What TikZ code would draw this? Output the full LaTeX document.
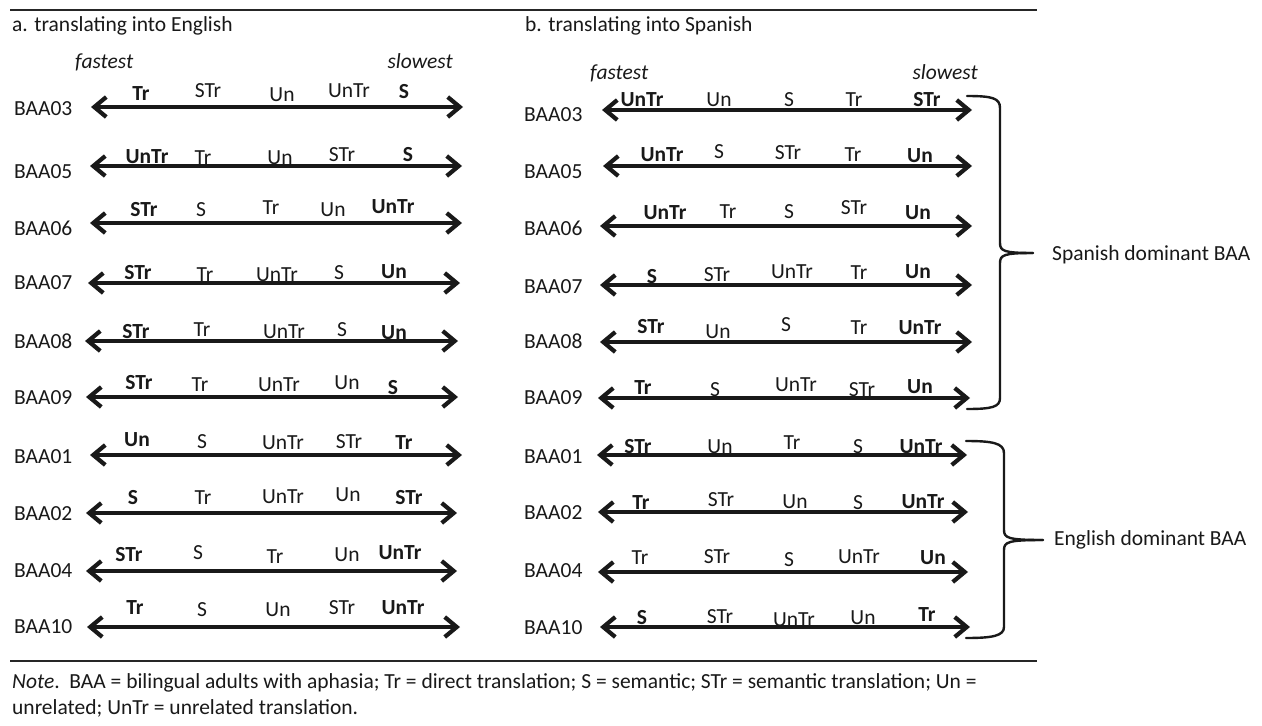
\documentclass[tikz,border=0pt]{standalone}
\usepackage{fontspec}
\setmainfont{Carlito}
\usetikzlibrary{arrows.meta}

% one ordering line: prefix, BAA number, label x, label y, left end, right end, line y, terms
\newcommand{\orderline}[8]{%
  \node[rowlab] (#1#2) at (#3,#4) {BAA#2};
  \coordinate (#1#2-l) at (#5,#7);
  \coordinate (#1#2-r) at (#6,#7);
  \draw[timeline] (#1#2-l) -- (#1#2-r);
  \foreach \tx/\ty/\lab/\sty [count=\k] in {#8}
    \node[\sty] (#1#2-t\k) at (\tx,\ty) {\lab};
}

\begin{document}
\begin{tikzpicture}[x=1pt,y=-1pt,
  txt/.style={font=\fontsize{21.5}{25}\selectfont, inner sep=0pt, text=black!90},
  term/.style={txt},
  keyterm/.style={txt, font=\fontsize{21.5}{25}\selectfont\bfseries},
  speed/.style={txt, font=\fontsize{21.5}{25}\selectfont\itshape},
  rowlab/.style={txt, anchor=west},
  notetxt/.style={txt, font=\fontsize{21.5}{25}\selectfont, anchor=base west},
  timeline/.style={line width=4.2pt, draw=black!90,
    {Straight Barb[length=12pt,width=20pt]}-{Straight Barb[length=12pt,width=20pt]}},
  rule/.style={line width=2.6pt, draw=black!85},
  brace/.style={line width=2.4pt, draw=black!90, line cap=round}]

\fill[white] (0,0) rectangle (1262,726);
\useasboundingbox (0,0) rectangle (1262,726);

% rules above and below the panels
\coordinate (topL) at (10,10);  \coordinate (topR) at (1037,10);
\coordinate (botL) at (10,661); \coordinate (botR) at (1037,661);
\draw[rule] (topL) -- (topR);
\draw[rule] (botL) -- (botR);

% panel titles and axis ends
\node[txt, anchor=base west] (titleA) at (12,31) {a. translating into English};
\node[txt, anchor=base west] (titleB) at (525,31) {b. translating into Spanish};
\node[speed, anchor=base west] (fastA) at (75,68) {fastest};
\node[speed, anchor=base east] (slowA) at (453,68) {slowest};
\node[speed, anchor=base west] (fastB) at (590,79) {fastest};
\node[speed, anchor=base east] (slowB) at (978,79) {slowest};

% panel a: translating into English
\orderline{e}{03}{14}{109}{91}{463}{107}{141/94/Tr/keyterm, 208/91/STr/term, 282/95/Un/term, 349/91/UnTr/term, 404/92/S/keyterm}
\orderline{e}{05}{14}{172}{90}{462}{166}{147/157/UnTr/keyterm, 203/158/Tr/term, 280/158/Un/term, 342/155/STr/term, 408/155/S/keyterm}
\orderline{e}{06}{14}{228}{90}{462}{223}{144/210/STr/keyterm, 201/210/S/term, 271/208/Tr/term, 333/210/Un/term, 393/207/UnTr/keyterm}
\orderline{e}{07}{14}{283}{88}{460}{283}{138/273/STr/keyterm, 205/275/Tr/term, 277/275/UnTr/term, 339/273/S/term, 394/272/Un/keyterm}
\orderline{e}{08}{14}{341}{85}{458}{341}{136/332/STr/keyterm, 202/330/Tr/term, 284/332/UnTr/term, 342/330/S/term, 394/333/Un/keyterm}
\orderline{e}{09}{14}{398}{86}{458}{397}{139/383/STr/keyterm, 200/385/Tr/term, 279/385/UnTr/term, 347/383/Un/term, 393/388/S/keyterm}
\orderline{e}{01}{14}{457}{90}{462}{455}{137/440/Un/keyterm, 202/442/S/term, 283/443/UnTr/term, 349/442/STr/term, 404/443/Tr/keyterm}
\orderline{e}{02}{14}{514}{86}{457}{513}{133/498/S/keyterm, 203/498/Tr/term, 283/497/UnTr/term, 348/495/Un/term, 409/498/STr/keyterm}
\orderline{e}{04}{14}{571}{86}{457}{571}{129/555/STr/keyterm, 198/553/S/term, 275/557/Tr/term, 347/555/Un/term, 400/553/UnTr/keyterm}
\orderline{e}{10}{14}{627}{87}{460}{627}{135/608/Tr/keyterm, 202/610/S/term, 278/610/Un/term, 342/608/STr/term, 403/608/UnTr/keyterm}

% panel b: translating into Spanish
\orderline{s}{03}{524}{115}{602}{972}{110}{642/100/UnTr/keyterm, 719/100/Un/term, 789/100/S/term, 854/100/Tr/term, 927/100/STr/keyterm}
\orderline{s}{05}{524}{172}{603}{972}{166}{662/155/UnTr/keyterm, 719/152/S/term, 788/153/STr/term, 853/155/Tr/term, 920/156/Un/keyterm}
\orderline{s}{06}{524}{228}{600}{972}{226}{665/213/UnTr/keyterm, 728/212/Tr/term, 789/212/S/term, 854/208/STr/term, 918/213/Un/keyterm}
\orderline{s}{07}{524}{287}{600}{972}{285}{652/277/S/keyterm, 717/275/STr/term, 792/272/UnTr/term, 859/273/Tr/term, 918/272/Un/keyterm}
\orderline{s}{08}{524}{341}{600}{972}{342}{651/327/STr/keyterm, 718/332/Un/term, 786/325/S/term, 859/328/Tr/term, 920/328/UnTr/keyterm}
\orderline{s}{09}{524}{398}{598}{970}{398}{643/388/Tr/keyterm, 715/390/S/term, 796/385/UnTr/term, 862/390/STr/term, 920/387/Un/keyterm}
\orderline{s}{01}{524}{457}{597}{967}{455}{638/447/STr/keyterm, 720/447/Un/term, 792/443/Tr/term, 858/447/S/term, 921/447/UnTr/keyterm}
\orderline{s}{02}{524}{513}{598}{968}{512}{641/503/Tr/keyterm, 721/500/STr/term, 795/502/Un/term, 858/503/S/term, 923/502/UnTr/keyterm}
\orderline{s}{04}{524}{571}{598}{968}{572}{640/558/Tr/term, 717/557/STr/term, 789/560/S/term, 859/557/UnTr/term, 933/558/Un/keyterm}
\orderline{s}{10}{524}{628}{600}{970}{627}{642/618/S/keyterm, 720/617/STr/term, 794/620/UnTr/term, 863/618/Un/term, 927/615/Tr/keyterm}

% group braces
\coordinate (spT) at (967,96);  \coordinate (spM) at (1033,253); \coordinate (spB) at (967,409);
\draw[brace] (spT) .. controls (992,96) and (1000,98) .. (1000,108) -- (1000,243)
  .. controls (1000,251) and (1004,253) .. (spM);
\draw[brace] (spM) .. controls (1004,253) and (1000,255) .. (1000,263) -- (1000,398)
  .. controls (1000,407) and (992,409) .. (spB);
\node[txt, anchor=west] (spanish) at (1052,255) {Spanish dominant BAA};

\coordinate (enT) at (966,441); \coordinate (enM) at (1043,540); \coordinate (enB) at (966,638);
\draw[brace] (enT) .. controls (992,441) and (1004,443) .. (1004,453) -- (1004,530)
  .. controls (1004,538) and (1008,540) .. (enM);
\draw[brace] (enM) .. controls (1008,540) and (1004,542) .. (1004,550) -- (1004,627)
  .. controls (1004,636) and (992,638) .. (enB);
\node[txt, anchor=west] (english) at (1054,540) {English dominant BAA};

% table note
\node[notetxt] (note1) at (12,688) {\textit{Note}.\ \ BAA = bilingual adults with aphasia; Tr = direct translation; S = semantic; STr = semantic translation; Un =};
\node[notetxt] (note2) at (12,714) {unrelated; UnTr = unrelated translation.};
\end{tikzpicture}
\end{document}
